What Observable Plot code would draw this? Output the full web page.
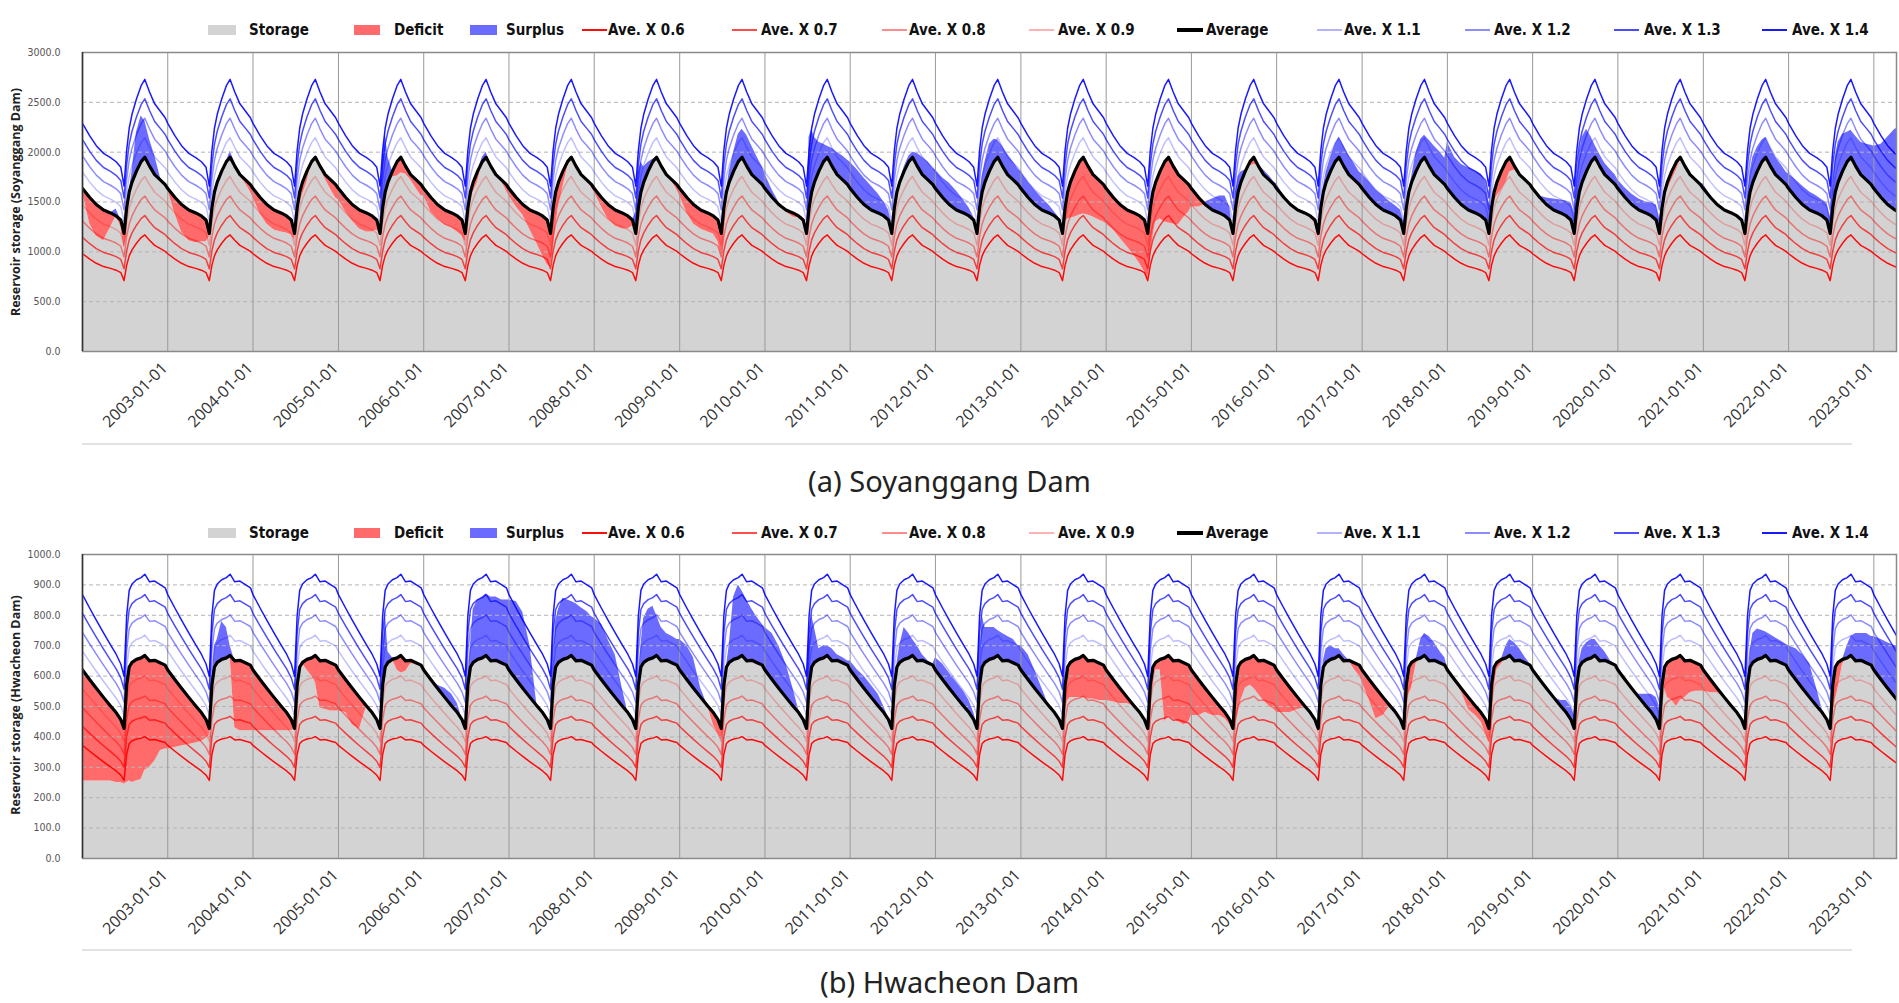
<!DOCTYPE html>
<html><head><meta charset="utf-8">
<script src="https://cdn.jsdelivr.net/npm/d3@7"></script>
<script src="https://cdn.jsdelivr.net/npm/@observablehq/plot@0.6"></script>
<style>
body{margin:0;background:#fff;width:1899px;height:1003px;overflow:hidden;position:relative;font-family:"Open Sans",sans-serif}
.leg{position:absolute;font-family:"Liberation Sans Narrow","DejaVu Sans Condensed",sans-serif;font-weight:bold;font-size:15px;color:#111;white-space:nowrap;line-height:1;transform:translateY(-50%)}
.sw{position:absolute}
.cap{position:absolute;left:0;width:1899px;text-align:center;font-family:"Noto Sans",sans-serif;font-size:29px;color:#222;line-height:1.15;transform:translateY(-50%)}
.ytitle{position:absolute;font-family:"Open Sans",sans-serif;font-weight:bold;font-size:12.5px;color:#222;white-space:nowrap;transform:translate(-50%,-50%) rotate(-90deg)}
.sep{position:absolute;height:2px;background:#e2e2e2}
.panel{position:absolute;left:0}
</style></head><body>
<script>
// ---------- data ----------
const storageYears = [2002,2003,2004,2005,2006,2007,2008,2009,2010,2011,2012,2013,2014,2015,2016,2017,2018,2019,2020,2021,2022,2023];
const gridDoy = [1,32,60,91,121,145,165,179,190,201,213,232,252,268,288,310,335,355];

const soyAverage = [1635,1545,1475,1420,1390,1360,1320,1185,1440,1600,1700,1810,1905,1950,1860,1775,1720,1675];
const hwaAverage = [620,588,560,530,502,480,457,428,570,630,645,655,660,668,650,652,643,636];

const soyStorage = [
  [1600,1280,1160,1110,1243,1430,1250,1030,1150,1600,1800,2197,2362,2313,2130,1967,1740,1650], // 2002
  [1620,1380,1200,1110,1090,1100,1100,1150,1460,1620,1700,1780,1900,2010,1900,1760,1680,1600], // 2003
  [1540,1380,1280,1220,1200,1190,1170,1120,1300,1480,1570,1700,1900,1950,1840,1730,1620,1540], // 2004
  [1520,1400,1310,1230,1200,1200,1220,1180,1950,2200,1950,1750,1760,1790,1780,1720,1630,1560], // 2005
  [1560,1400,1330,1270,1240,1200,1160,1100,1300,1500,1600,1700,1950,2000,1880,1790,1700,1610], // 2006
  [1560,1450,1370,1220,1080,960,870,850,1000,1250,1450,1650,1850,1930,1860,1780,1710,1640],    // 2007
  [1600,1450,1330,1260,1230,1230,1260,1400,1800,1900,1850,1900,1930,1940,1860,1780,1700,1620], // 2008
  [1560,1390,1280,1230,1200,1180,1100,960,1100,1500,1800,2000,2180,2230,2170,2060,1940,1850],  // 2009
  [1780,1620,1500,1400,1350,1340,1300,1150,2150,2230,2150,2100,2080,2060,2040,2000,1960,1920], // 2010
  [1900,1820,1740,1660,1580,1500,1420,1280,1350,1460,1650,1850,1960,2000,1990,1950,1900,1840], // 2011
  [1820,1740,1690,1610,1520,1440,1350,1250,1500,1750,1900,2080,2130,2120,2060,1980,1900,1830], // 2012
  [1800,1700,1620,1540,1470,1400,1340,1180,1300,1330,1340,1350,1370,1380,1370,1350,1320,1300], // 2013
  [1280,1220,1140,1050,960,880,800,730,900,1150,1300,1330,1300,1290,1280,1270,1350,1400],      // 2014
  [1450,1450,1500,1530,1560,1560,1450,1200,1600,1750,1800,1820,1860,1880,1870,1820,1760,1700], // 2015
  [1680,1560,1480,1420,1390,1360,1280,1130,1420,1650,1800,1950,2080,2150,2070,1970,1880,1800], // 2016
  [1780,1700,1620,1560,1500,1460,1420,1300,1380,1500,1750,2000,2130,2170,2120,2060,2000,1940], // 2017
  [2100,1950,1880,1840,1810,1780,1700,1500,1400,1500,1560,1620,1700,1800,1820,1780,1730,1680], // 2018
  [1620,1560,1540,1530,1520,1510,1490,1400,1700,2000,2150,2230,2150,2070,1980,1890,1820,1770], // 2019
  [1720,1640,1580,1530,1500,1490,1470,1330,1480,1560,1620,1720,1820,1920,1870,1790,1730,1680], // 2020
  [1680,1560,1480,1420,1390,1360,1300,1120,1550,1800,1950,2050,2120,2150,2050,1950,1870,1800], // 2021
  [1780,1720,1660,1600,1560,1520,1490,1350,1650,1950,2100,2180,2200,2220,2160,2100,2080,2070], // 2022
  [2060,2080,2150,2230,2250]                                                                   // 2023
];

const hwaStorage = [
  [255,255,255,255,255,250,250,245,250,255,250,255,260,290,300,320,355,360], // 2002
  [360,365,370,375,380,385,395,405,520,700,720,780,760,700,430,420,420,420], // 2003
  [420,420,420,420,420,420,420,425,560,620,640,620,600,580,495,490,485,485], // 2004
  [485,480,440,425,500,478,452,428,640,820,680,660,620,610,615,640,640,635], // 2005
  [630,590,570,560,540,510,460,420,580,700,820,850,860,870,860,860,850,850], // 2006
  [850,845,810,700,500,480,455,428,620,780,820,856,850,845,838,825,812,795], // 2007
  [790,770,720,670,560,480,455,428,580,700,790,820,830,800,760,740,730,720], // 2008
  [720,700,660,560,500,440,410,390,420,600,700,860,900,880,850,820,790,770], // 2009
  [760,740,700,640,560,490,455,420,700,800,760,690,700,700,690,670,660,650], // 2010
  [650,620,600,570,540,500,460,430,560,640,700,760,740,720,700,670,650,640], // 2011
  [660,640,610,580,550,520,480,440,620,800,760,760,760,750,740,730,720,700], // 2012
  [700,670,620,560,500,480,450,420,480,520,530,530,530,530,525,525,520,520], // 2013
  [520,515,510,510,500,475,450,415,440,560,620,620,450,470,460,450,440,450], // 2014
  [470,470,480,470,470,460,440,420,440,480,520,560,570,560,540,520,500,490], // 2015
  [480,480,480,490,495,480,455,410,480,650,690,700,690,690,670,650,620,600], // 2016
  [580,520,460,470,510,490,460,430,480,540,560,640,720,740,730,710,680,660], // 2017
  [630,590,550,490,470,450,410,380,420,560,620,640,700,720,710,690,660,640], // 2018
  [630,590,555,530,520,520,500,470,560,650,690,710,720,720,700,680,650,640], // 2019
  [630,590,560,540,540,540,530,500,580,560,530,520,500,520,530,545,550,550], // 2020
  [550,545,545,530,505,485,460,430,560,680,740,755,750,745,736,725,715,705], // 2021
  [700,690,670,640,560,490,455,428,470,520,560,640,700,730,740,740,740,730], // 2022
  [730,720,710,700,700]                                                      // 2023
];

const ratios = [0.6,0.7,0.8,0.9,1.1,1.2,1.3,1.4];
const ratioLabels = ["Ave. X 0.6","Ave. X 0.7","Ave. X 0.8","Ave. X 0.9","Ave. X 1.1","Ave. X 1.2","Ave. X 1.3","Ave. X 1.4"];
const ratioColors = ["#ff0000","#ff0000","#ff0000","#ff0000","#0000ff","#0000ff","#0000ff","#0000ff"];
const ratioOpacity = [0.95,0.7,0.45,0.25,0.25,0.45,0.7,0.9];
const xTickYears = [2003,2004,2005,2006,2007,2008,2009,2010,2011,2012,2013,2014,2015,2016,2017,2018,2019,2020,2021,2022,2023];
const soyYTicks = [0,500,1000,1500,2000,2500,3000];
const hwaYTicks = [0,100,200,300,400,500,600,700,800,900,1000];

const storageColor = "#d3d3d3", deficitColor = "#ff6b6b", surplusColor = "#6b6bff";

// ---------- layout ----------
const legendLayout = [
  {kind:"box", label:"Storage", color:storageColor, x:208, w:28, tx:249},
  {kind:"box", label:"Deficit", color:deficitColor, x:354, w:26, tx:394},
  {kind:"box", label:"Surplus", color:surplusColor, x:470, w:27, tx:506},
  {kind:"line", r:0, x:582, tx:608},
  {kind:"line", r:1, x:732, tx:761},
  {kind:"line", r:2, x:882, tx:909},
  {kind:"line", r:3, x:1029, tx:1058},
  {kind:"avg", label:"Average", x:1177, tx:1206},
  {kind:"line", r:4, x:1317, tx:1344},
  {kind:"line", r:5, x:1465, tx:1494},
  {kind:"line", r:6, x:1614, tx:1644},
  {kind:"line", r:7, x:1762, tx:1792}
];

function el(tag, cls, css, text) {
  const e = document.createElement(tag);
  if (cls) e.className = cls;
  Object.assign(e.style, css || {});
  if (text != null) e.textContent = text;
  document.body.appendChild(e);
  return e;
}

function legend(cy) {
  for (const it of legendLayout) {
    let label = it.label;
    if (it.kind === "box") {
      el("div", "sw", {left: it.x + "px", top: (cy - 5) + "px", width: it.w + "px", height: "10px", background: it.color});
    } else if (it.kind === "avg") {
      el("div", "sw", {left: it.x + "px", top: (cy - 2) + "px", width: "26px", height: "4px", background: "#000"});
    } else {
      label = ratioLabels[it.r];
      el("div", "sw", {left: it.x + "px", top: (cy - 1) + "px", width: "25px", height: "2px", background: ratioColors[it.r], opacity: Math.max(ratioOpacity[it.r], 0.3)});
    }
    el("div", "leg", {left: it.tx + "px", top: cy + "px"}, label);
  }
}

function buildRows(avg, storage) {
  const rows = [];
  storage.forEach((vals, k) => {
    const year = storageYears[k];
    vals.forEach((v, i) => rows.push({date: new Date(Date.UTC(year, 0, gridDoy[i])), avg: avg[i], storage: v}));
  });
  return rows;
}

const xStart = new Date(Date.UTC(2002, 0, 1));
const xEnd = new Date(Date.UTC(2023, 3, 8));
const xTicks = xTickYears.map(y => new Date(Date.UTC(y, 0, 1)));

function panel({top, plotH, yMax, yTicks, avg, storage}) {
  const rows = buildRows(avg, storage);
  const mT = 10, mB = 95;
  const marks = [
    Plot.areaY(rows, {x: "date", y1: 0, y2: d => Math.min(d.storage, d.avg), fill: storageColor, clip: true}),
    Plot.areaY(rows, {x: "date", y1: d => Math.min(d.storage, d.avg), y2: "avg", fill: deficitColor, clip: true}),
    Plot.areaY(rows, {x: "date", y1: "avg", y2: d => Math.max(d.storage, d.avg), fill: surplusColor, clip: true}),
    Plot.gridY(yTicks.slice(1, -1), {stroke: "#b4b4b4", strokeOpacity: 1, strokeDasharray: "4,3"}),
    Plot.gridX(xTicks, {stroke: "#9a9a9a", strokeOpacity: 1}),
    ...ratios.map((r, i) => Plot.line(rows, {x: "date", y: d => d.avg * r, stroke: ratioColors[i], strokeOpacity: ratioOpacity[i], strokeWidth: 1.5, clip: true})),
    Plot.line(rows, {x: "date", y: "avg", stroke: "#000", strokeWidth: 3.2, clip: true}),
    Plot.frame({stroke: "#8a8a8a", strokeWidth: 1.5}),
    Plot.ruleX([xStart], {stroke: "#333", strokeWidth: 1.5}),
    Plot.axisX(xTicks, {tickFormat: d3.utcFormat("%Y-%m-%d"), tickRotate: -45, tickSize: 0, tickPadding: 14, fontSize: 16, fill: "#333", label: null, fontFamily: "Open Sans", dx: -3}),
    Plot.axisY(yTicks, {tickFormat: d => d.toFixed(1), tickSize: 0, tickPadding: 22, fontSize: 10.5, fill: "#555", label: null, fontFamily: "Liberation Sans Narrow, DejaVu Sans Condensed, sans-serif"})
  ];
  const chart = Plot.plot({
    width: 1899, height: mT + plotH + mB,
    marginLeft: 82, marginRight: 3, marginTop: mT, marginBottom: mB,
    x: {type: "utc", domain: [xStart, xEnd]},
    y: {domain: [0, yMax]},
    style: {background: "transparent", overflow: "visible"},
    marks
  });
  chart.classList.add("panel");
  chart.style.top = (top - mT) + "px";
  document.body.appendChild(chart);
}

// ---------- panel (a) ----------
legend(30);
panel({top: 52, plotH: 299, yMax: 3000, yTicks: soyYTicks, avg: soyAverage, storage: soyStorage});
el("div", "ytitle", {left: "15px", top: "202px"}, "Reservoir storage (Soyanggang Dam)");
el("div", "sep", {left: "82px", top: "443px", width: "1770px"});
el("div", "cap", {top: "481px"}, "(a) Soyanggang Dam");

// ---------- panel (b) ----------
legend(533);
panel({top: 554, plotH: 304, yMax: 1000, yTicks: hwaYTicks, avg: hwaAverage, storage: hwaStorage});
el("div", "ytitle", {left: "15px", top: "705px"}, "Reservoir storage (Hwacheon Dam)");
el("div", "sep", {left: "82px", top: "949px", width: "1770px"});
el("div", "cap", {top: "982px"}, "(b) Hwacheon Dam");
</script></body></html>
